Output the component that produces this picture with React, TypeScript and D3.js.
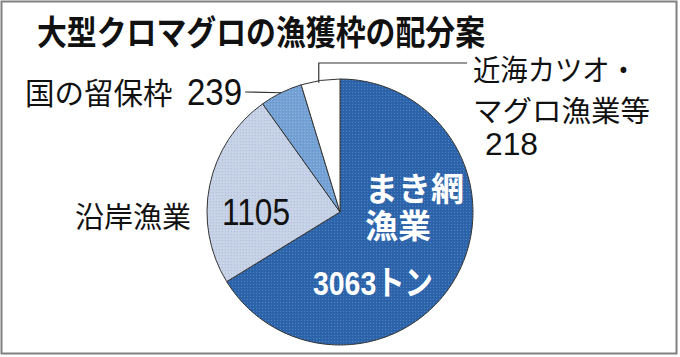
import React from "react";
import * as d3 from "d3";

const categories = ["まき網漁業", "沿岸漁業", "国の留保枠", "近海カツオ・マグロ漁業等"];
const values = [3063, 1105, 239, 218];
const colors = ["#2d65ad", "#c5d1e7", "#74a2d6", "#ffffff"];

const W = 680;
const H = 357;
const cx = 340;
const cy = 212;
const R = 133;
const JP = "'Noto Sans CJK JP', sans-serif";
const NUM = "'Liberation Sans', 'Noto Sans CJK JP', sans-serif";

export default function App() {
  const pie = d3.pie<number>().sort(null).value((d) => d);
  const arcs = pie(values);
  const arc = d3.arc<d3.PieArcDatum<number>>().innerRadius(0).outerRadius(R);
  const pt = (a: number, r: number) => [cx + r * Math.sin(a), cy - r * Math.cos(a)];
  const ryuho = arcs[2];
  const kinkai = arcs[3];
  const rMid = (ryuho.startAngle + ryuho.endAngle) / 2;
  const [rx, ry] = pt(rMid, R);
  const kA = kinkai.startAngle + (kinkai.endAngle - kinkai.startAngle) * 0.45;
  const [kx, ky] = pt(kA, R - 2);

  return (
    <svg width={W} height={H} style={{ position: "absolute", left: 0, top: 0, background: "#fff" }}>
      <defs>
        <pattern id="tex" width="3" height="3" patternUnits="userSpaceOnUse">
          <rect x="0" y="0" width="1" height="1" fill="#ffffff" opacity="0.18" />
          <rect x="2" y="1" width="1" height="1" fill="#000000" opacity="0.08" />
        </pattern>
      </defs>
      <rect x={1.5} y={1.5} width={675} height={352} fill="#fff" stroke="#808080" strokeWidth={2} />
      <text x={37} y={45} fontFamily={JP} fontWeight="bold" fontSize={34} fill="#111"
        textLength={448} lengthAdjust="spacingAndGlyphs">
        大型クロマグロの漁獲枠の配分案
      </text>
      <g transform={`translate(${cx},${cy})`}>
        {arcs.map((a, i) => (
          <path key={categories[i]} d={arc(a) || ""} fill={colors[i]} stroke="#333" strokeWidth={1} />
        ))}
        {arcs.slice(0, 3).map((a, i) => (
          <path key={"t" + i} d={arc(a) || ""} fill="url(#tex)" stroke="none" />
        ))}
      </g>
      {/* leader lines */}
      <polyline points={`${kx},${ky} ${kx},63 467,63`} fill="none" stroke="#333" strokeWidth={1.2} />
      <line x1={245} y1={92} x2={rx} y2={ry} stroke="#333" strokeWidth={1.2} />

      {/* labels */}
      <text x={25} y={104} fontFamily={JP} fontSize={29.5} fill="#111">
        国の留保枠
      </text>
      <text x={187} y={105} fontFamily={NUM} fontSize={37} fill="#111" textLength={55} lengthAdjust="spacingAndGlyphs">
        {values[2]}
      </text>
      <text x={473} y={81} fontFamily={JP} fontSize={29} fill="#111" textLength={164} lengthAdjust="spacingAndGlyphs">
        近海カツオ・
      </text>
      <text x={473} y={122} fontFamily={JP} fontSize={29} fill="#111" textLength={177} lengthAdjust="spacingAndGlyphs">
        マグロ漁業等
      </text>
      <text x={485} y={155} fontFamily={NUM} fontSize={32} fill="#111" textLength={53} lengthAdjust="spacingAndGlyphs">
        {values[3]}
      </text>
      <text x={75} y={228} fontFamily={JP} fontSize={29} fill="#111">
        沿岸漁業
      </text>
      <text x={222} y={225} fontFamily={NUM} fontSize={37} fill="#111" textLength={68} lengthAdjust="spacingAndGlyphs">
        {values[1]}
      </text>
      <text x={365} y={201} fontFamily={JP} fontWeight="bold" fontSize={33} fill="#fff">
        まき網
      </text>
      <text x={365} y={238} fontFamily={JP} fontWeight="bold" fontSize={33} fill="#fff">
        漁業
      </text>
      <text x={313} y={295} fontFamily={NUM} fontWeight="bold" fontSize={34} fill="#fff" textLength={120} lengthAdjust="spacingAndGlyphs">
        {values[0]}トン
      </text>
    </svg>
  );
}
